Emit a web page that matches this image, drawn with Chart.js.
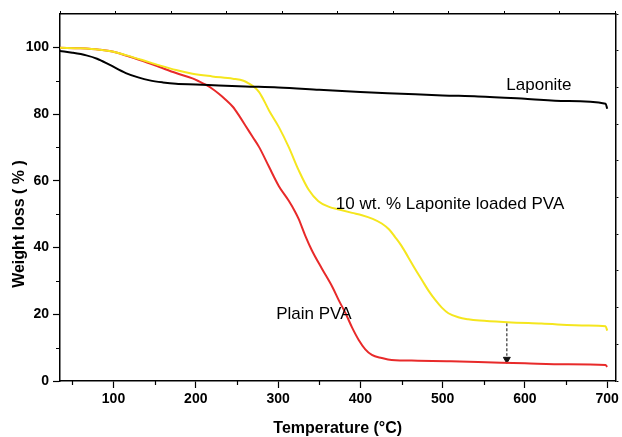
<!DOCTYPE html>
<html><head><meta charset="utf-8">
<script src="https://cdn.jsdelivr.net/npm/chart.js@4.4.1/dist/chart.umd.min.js"></script>
<style>html,body{margin:0;padding:0;background:#fff}#wrap{width:622px;height:437px}</style>
</head><body><div id="wrap"><canvas id="c" width="622" height="437"></canvas></div>
<script>
// ---- data ----
const tempLaponite   = [35, 50, 67, 80, 95, 115, 130, 144, 160, 176, 200, 228, 260, 300, 350, 400, 450, 500, 543, 600, 650, 698, 700];
const weightLaponite = [98.9, 98.4, 97.6, 96.6, 94.8, 92.3, 91.0, 90.1, 89.5, 89.1, 88.9, 88.6, 88.3, 88.0, 87.3, 86.6, 86.1, 85.6, 85.3, 84.6, 83.9, 83.1, 81.6];

const tempLoaded   = [35, 60, 83, 100, 116, 135, 156, 176, 196, 220, 245, 258, 265, 271, 277, 283, 289, 301, 313, 325, 337, 349, 362, 374, 390, 402, 415, 426, 435, 442, 450, 458, 466, 475, 483, 491, 499, 507, 519, 531, 545, 579, 620, 676, 698, 700];
const weightLoaded = [99.9, 99.7, 99.3, 98.7, 97.6, 96.2, 94.6, 93.2, 92.1, 91.3, 90.6, 90.0, 89.1, 88.1, 86.6, 84.0, 81.1, 76.1, 70.1, 63.2, 57.4, 53.9, 52.2, 51.4, 50.4, 49.7, 48.6, 47.2, 45.4, 43.2, 40.5, 37.2, 33.8, 30.2, 27.0, 24.3, 22.0, 20.3, 19.1, 18.5, 18.1, 17.6, 17.2, 16.6, 16.4, 15.1];

const tempPlain   = [35, 60, 83, 100, 116, 135, 156, 176, 196, 204, 212, 220, 228, 236, 245, 253, 261, 269, 277, 289, 301, 313, 321, 325, 333, 341, 353, 366, 374, 382, 390, 398, 406, 414, 426, 438, 470, 510, 543, 600, 650, 698, 700];
const weightPlain = [99.9, 99.7, 99.3, 98.7, 97.5, 96.0, 94.1, 92.3, 90.7, 89.8, 88.8, 87.6, 86.1, 84.4, 82.2, 79.4, 76.3, 73.2, 70.1, 64.2, 58.4, 54.0, 50.6, 48.6, 43.6, 39.2, 33.8, 28.2, 24.1, 20.3, 16.0, 12.3, 9.5, 7.8, 6.9, 6.3, 6.1, 5.9, 5.7, 5.3, 5.0, 4.8, 4.2];

const arrowTemp   = [578, 578];
const arrowWeight = [17.3, 7.6];
const arrowHeadTemp = [578];
const arrowHeadWeight = [6.5];

const xMajorTicks = [100, 200, 300, 400, 500, 600, 700];
const xMinorTicks = [50, 150, 250, 350, 450, 550, 650];
const yMajorTicks = [0, 20, 40, 60, 80, 100];
const yMinorTicks = [10, 30, 50, 70, 90];

const labelTexts = ['Laponite', '10 wt. % Laponite loaded PVA', 'Plain PVA'];
const labelTemps = [617, 509, 343.5];
const labelWeights = [88.6, 53.0, 19.9];

const xTitle = 'Temperature (°C)';
const yTitle = 'Weight loss ( % )';

// ---- build ----
const pts = (xs, ys) => xs.map((x, i) => ({x, y: ys[i]}));
const FONT = "'Liberation Sans', Arial, sans-serif";

const decor = {
  id: 'decor',
  afterDraw(chart) {
    const ctx = chart.ctx, xs = chart.scales.x, ys = chart.scales.y, a = chart.chartArea;
    ctx.save();
    ctx.strokeStyle = '#000'; ctx.lineWidth = 1.2;
    ctx.beginPath();
    xMinorTicks.forEach(v => { const p = Math.round(xs.getPixelForValue(v)) + 0.5; ctx.moveTo(p, a.bottom); ctx.lineTo(p, a.bottom + 4); });
    yMinorTicks.forEach(v => { const p = Math.round(ys.getPixelForValue(v)) + 0.5; ctx.moveTo(a.left - 4, p); ctx.lineTo(a.left, p); });
    ctx.stroke();
    ctx.fillStyle = '#000';
    ctx.font = '17px ' + FONT;
    ctx.textAlign = 'center'; ctx.textBaseline = 'middle';
    labelTexts.forEach((t, i) => ctx.fillText(t, xs.getPixelForValue(labelTemps[i]), ys.getPixelForValue(labelWeights[i])));
    ctx.translate(20, 224); ctx.rotate(-Math.PI / 2);
    ctx.font = 'bold 16px ' + FONT;
    ctx.fillText(yTitle, 0, 0);
    ctx.restore();
  }
};

const tickFont = {family: FONT, size: 14, weight: 'bold'};
const axisBase = (extra) => Object.assign({
  border: {display: true, color: '#000', width: 1.5},
  grid: {display: true, drawOnChartArea: false, drawTicks: true, tickLength: 7, tickColor: '#000', tickWidth: 1.2},
}, extra);

new Chart(document.getElementById('c'), {
  type: 'line',
  data: {
    datasets: [
      {label: 'Laponite', data: pts(tempLaponite, weightLaponite), borderColor: '#000', borderWidth: 2, cubicInterpolationMode: 'monotone'},
      {label: '10 wt. % Laponite loaded PVA', data: pts(tempLoaded, weightLoaded), borderColor: '#f5e61e', borderWidth: 2, cubicInterpolationMode: 'monotone'},
      {label: 'Plain PVA', data: pts(tempPlain, weightPlain), borderColor: '#e82a2a', borderWidth: 2, cubicInterpolationMode: 'monotone'},
      {label: 'arrow', data: pts(arrowTemp, arrowWeight), borderColor: '#333', borderWidth: 1.2, borderDash: [3, 2]},
      {label: 'arrowhead', data: pts(arrowHeadTemp, arrowHeadWeight), showLine: false, pointStyle: 'triangle', rotation: 180, pointRadius: 4, backgroundColor: '#111', borderColor: '#111', borderWidth: 1}
    ]
  },
  options: {
    responsive: false, animation: false, devicePixelRatio: 1,
    layout: {padding: 0},
    elements: {point: {radius: 0}, line: {tension: 0}},
    plugins: {legend: {display: false}, tooltip: {enabled: false}},
    scales: {
      x: axisBase({type: 'linear', position: 'bottom', min: 35, max: 710,
        afterBuildTicks: s => { s.ticks = xMajorTicks.map(v => ({value: v})); },
        afterFit: s => { s.height = 56; },
        ticks: {color: '#000', font: tickFont, padding: 3, maxRotation: 0, autoSkip: false},
        title: {display: true, text: xTitle, color: '#000', font: {family: FONT, size: 16, weight: 'bold', lineHeight: 1}, padding: 0}
      }),
      y: axisBase({type: 'linear', position: 'left', min: 0, max: 110,
        afterBuildTicks: s => { s.ticks = yMajorTicks.map(v => ({value: v})); },
        afterFit: s => { s.width = 60; },
        ticks: {color: '#000', font: tickFont, padding: 4}
      }),
      x2: {type: 'linear', position: 'top', min: 0, max: 10,
        border: {display: true, color: '#000', width: 1.5},
        grid: {display: true, drawOnChartArea: false, drawTicks: true, tickLength: 3, tickColor: '#000', tickWidth: 1},
        ticks: {display: false, stepSize: 1},
        afterFit: s => { s.height = 14; }
      },
      y2: {type: 'linear', position: 'right', min: 0, max: 10,
        border: {display: true, color: '#000', width: 1.5},
        grid: {display: true, drawOnChartArea: false, drawTicks: true, tickLength: 3, tickColor: '#000', tickWidth: 1},
        ticks: {display: false, stepSize: 1},
        afterFit: s => { s.width = 4; }
      }
    }
  },
  plugins: [decor]
});
</script>
</body></html>
